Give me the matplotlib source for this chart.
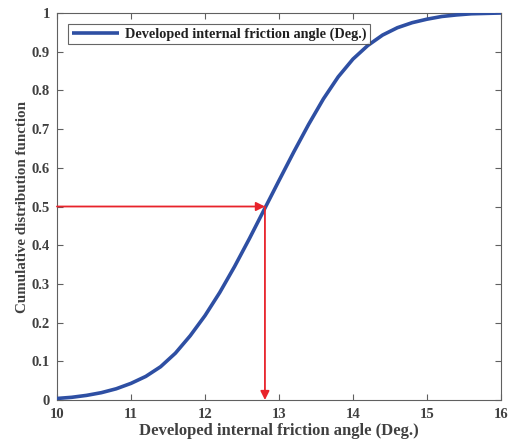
import matplotlib
matplotlib.use('Agg')
import matplotlib.pyplot as plt

# CDF curve
angle = [10.0, 10.2, 10.4, 10.6, 10.8, 11.0, 11.2, 11.4, 11.6, 11.8,
         12.0, 12.2, 12.4, 12.6, 12.8, 13.0, 13.2, 13.4, 13.6, 13.8,
         14.0, 14.2, 14.4, 14.6, 14.8, 15.0, 15.2, 15.4, 15.6, 15.8, 16.0]
cdf = [0.004, 0.007, 0.012, 0.019, 0.029, 0.043, 0.061, 0.086, 0.121, 0.166,
       0.218, 0.278, 0.345, 0.417, 0.492, 0.567, 0.641, 0.712, 0.778, 0.835,
       0.881, 0.916, 0.943, 0.962, 0.975, 0.984, 0.991, 0.995, 0.998, 0.999, 1.0]

# median marker
x_med = 12.81
y_med = 0.5

xticks = [10, 11, 12, 13, 14, 15, 16]
yticks = [0, 0.1, 0.2, 0.3, 0.4, 0.5, 0.6, 0.7, 0.8, 0.9, 1]
ytick_labels = ['0', '0.1', '0.2', '0.3', '0.4', '0.5', '0.6', '0.7', '0.8', '0.9', '1']

plt.rcParams['font.family'] = 'Liberation Serif'
plt.rcParams['font.weight'] = 'bold'
txt = '#404040'
edge = '#606060'

fig = plt.figure(figsize=(5.08, 4.42), dpi=100)
ax = fig.add_axes([0.1122, 0.095, 0.874, 0.8756])

ax.plot(angle, cdf, color='#2E4FA3', lw=2.6, label='Developed internal friction angle (Deg.)',
        solid_capstyle='butt', solid_joinstyle='round', zorder=3)

red = '#E8232B'
ax.annotate('', xy=(x_med, y_med), xytext=(10.0, y_med),
            arrowprops=dict(arrowstyle='-|>', color=red, lw=1.3, mutation_scale=13,
                            shrinkA=0, shrinkB=0), zorder=4)
ax.annotate('', xy=(x_med, 0.0), xytext=(x_med, y_med),
            arrowprops=dict(arrowstyle='-|>', color=red, lw=1.3, mutation_scale=13,
                            shrinkA=0, shrinkB=0), zorder=4)

ax.set_xlim(10, 16)
ax.set_ylim(0, 1)
ax.set_xticks(xticks)
ax.set_yticks(yticks)
ax.set_yticklabels(ytick_labels)
ax.tick_params(direction='in', top=True, right=True, length=4, width=0.8,
               colors=edge, labelcolor=txt, labelsize=10.5)
ax.tick_params(axis='x', pad=6)
ax.tick_params(axis='y', pad=5)
for s in ax.spines.values():
    s.set_color(edge)
    s.set_linewidth(0.8)

ax.set_xlabel('Developed internal friction angle (Deg.)', fontsize=12, color=txt,
              fontweight='bold', labelpad=1)
ax.set_ylabel('Cumulative distribution function', fontsize=10.8, color=txt,
              fontweight='bold', labelpad=2)

leg = ax.legend(loc='upper left', fontsize=10.3, frameon=True, fancybox=False,
                borderpad=0.25, handlelength=3.3, handletextpad=0.45, borderaxespad=0,
                bbox_to_anchor=(0.025, 0.972))
leg.get_frame().set_edgecolor('#404040')
leg.get_frame().set_linewidth(0.8)
for t in leg.get_texts():
    t.set_color('#202020')

fig.savefig('out.png', dpi=100)
